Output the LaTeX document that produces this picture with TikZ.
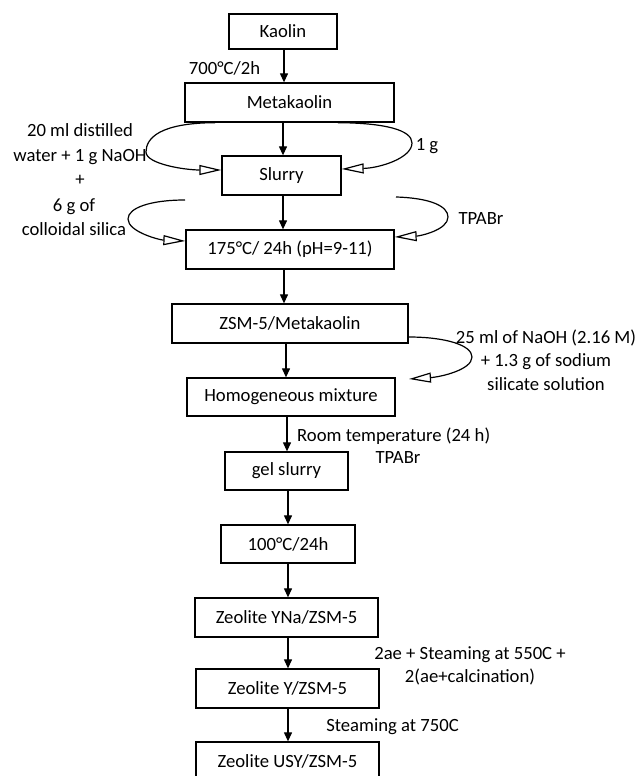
\documentclass[tikz,border=0pt]{standalone}
\usepackage{fontspec}
\setmainfont{Carlito}
\usetikzlibrary{arrows.meta}
\begin{document}
\begin{tikzpicture}[x=1pt,y=-1pt,
  box/.style={draw,line width=1.3pt,inner sep=0pt,minimum height=39pt,anchor=center},
  lbl/.style={inner sep=0pt,align=center},
  arr/.style={line width=1.2pt,-{Triangle[length=9pt,width=8pt]}},
  oarr/.style={line width=1.2pt,-{Triangle[open,length=22pt,width=10pt]}},
  font=\fontsize{18.67pt}{24pt}\selectfont]
\useasboundingbox (0,0) rectangle (643,776);
\clip (0,0) rectangle (643,776);
% boxes
\node[box,minimum width=108pt,minimum height=35pt] (kaolin) at (283,31.5) {Kaolin};
\node[box,minimum width=209pt] (meta) at (289.5,102.5) {Metakaolin};
\node[box,minimum width=119pt] (slurry) at (281.5,175.5) {Slurry};
\node[box,minimum width=208pt] (s175) at (290,249.5) {175°C/ 24h (pH=9-11)};
\node[box,minimum width=236pt] (zsm) at (290,323.5) {ZSM-5/Metakaolin};
\node[box,minimum width=208pt,minimum height=38pt] (homog) at (291,397) {Homogeneous mixture};
\node[box,minimum width=123pt,minimum height=38pt] (gel) at (286.5,471) {gel slurry};
\node[box,minimum width=134pt,minimum height=38pt] (c100) at (288,544) {100°C/24h};
\node[box,minimum width=183pt] (yna) at (286.5,617.5) {Zeolite YNa/ZSM-5};
\node[box,minimum width=183pt] (zy) at (287.5,688.5) {Zeolite Y/ZSM-5};
\node[box,minimum width=183pt] (usy) at (287.5,761.5) {Zeolite USY/ZSM-5};
% labels
\node[lbl] (t700) at (224.5,68) {700°C/2h};
\node[lbl] (t1g) at (427,146) {1 g};
\node[lbl] (ttpa1) at (481,219) {TPABr};
\node[lbl,font=\fontsize{18.67pt}{24.5pt}\selectfont] (twater) at (80,155) {20 ml distilled\\water + 1 g NaOH\\+};
\node[lbl,font=\fontsize{18.67pt}{24.5pt}\selectfont] (tsilica) at (74,217) {6 g of\\colloidal silica};
\node[lbl,font=\fontsize{18.67pt}{23.5pt}\selectfont] (tnaoh) at (546,360) {25 ml of NaOH (2.16 M)\\+ 1.3 g of sodium\\silicate solution};
\node[lbl,anchor=west] (troom) at (297,436) {Room temperature (24 h)};
\node[lbl] (ttpa2) at (398,458) {TPABr};
\node[lbl,font=\fontsize{18.67pt}{23pt}\selectfont] (tsteam1) at (470,666) {2ae + Steaming at 550C +\\2(ae+calcination)};
\node[lbl] (tsteam2) at (392.5,727) {Steaming at 750C};
% main arrows
\draw[arr] (kaolin.south -| 284,0) -- (meta.north -| 284,0);
\draw[arr] (meta.south -| 283,0) -- (slurry.north -| 283,0);
\draw[arr] (slurry.south -| 283,0) -- (s175.north -| 283,0);
\draw[arr] (s175.south -| 284,0) -- (zsm.north -| 284,0);
\draw[arr] (zsm.south -| 286,0) -- (homog.north -| 286,0);
\draw[arr] (homog.south -| 287,0) -- (gel.north -| 287,0);
\draw[arr] (gel.south -| 288,0) -- (c100.north -| 288,0);
\draw[arr] (c100.south -| 288,0) -- (yna.north -| 288,0);
\draw[arr] (yna.south -| 288,0) -- (zy.north -| 288,0);
\draw[arr] (zy.south -| 288,0) -- (usy.north -| 288,0);
% loops
\coordinate (l2start) at (185,200);
\coordinate (r2start) at (396,197);
\coordinate (naohend) at (409,379);
\draw[oarr] (meta.south -| 215,0) .. controls (160,123) and (146,138) .. (146,152)
  .. controls (146,164) and (185,170) .. (slurry.west |- 0,170);
\draw[oarr] (meta.south -| 338,0) .. controls (385,123) and (412,130) .. (412,143)
  .. controls (412,158) and (380,168) .. (slurry.east |- 0,169);
\draw[oarr] (l2start) .. controls (150,200) and (128,208) .. (128,219)
  .. controls (128,232) and (160,240) .. (s175.west |- 0,241);
\draw[oarr] (r2start) .. controls (430,198) and (448,206) .. (448,217)
  .. controls (448,230) and (420,236) .. (s175.east |- 0,237);
\draw[oarr] (zsm.east |- 0,337) .. controls (445,337) and (472,345) .. (472,357)
  .. controls (472,370) and (440,377) .. (naohend);
\end{tikzpicture}
\end{document}
